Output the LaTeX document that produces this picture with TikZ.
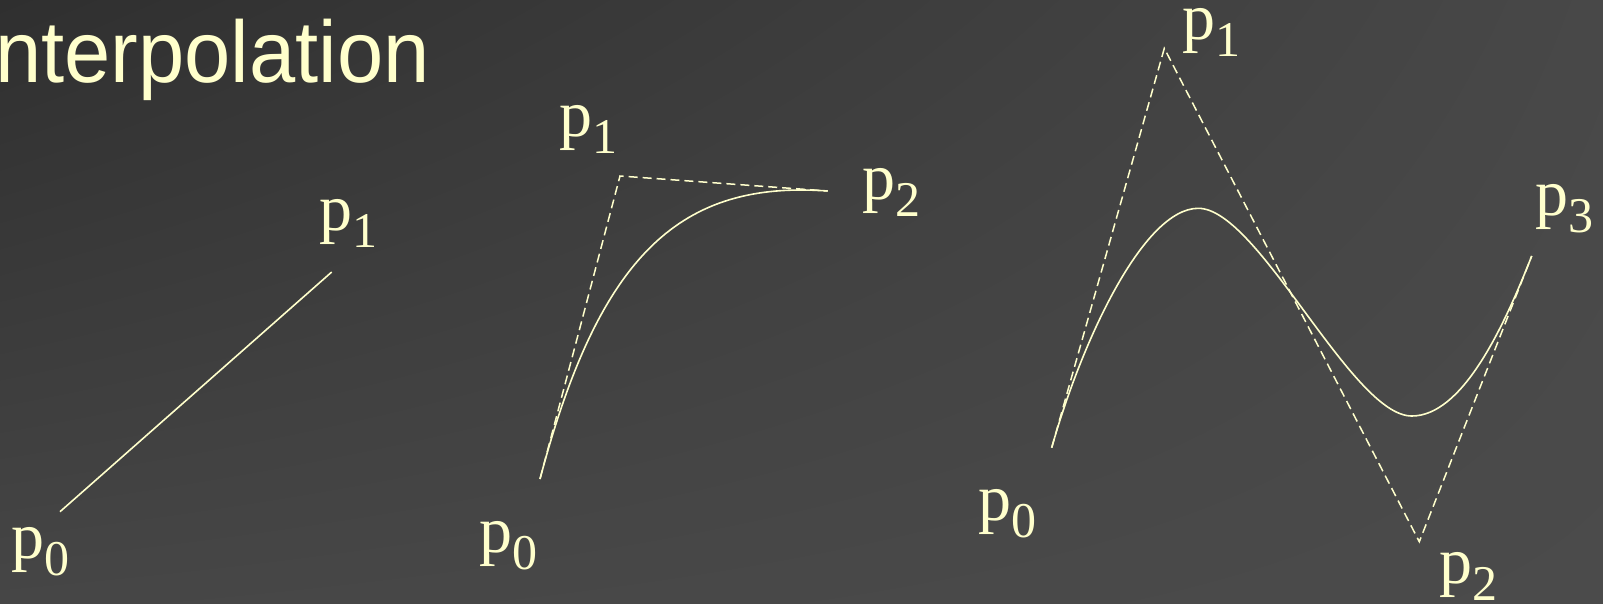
\documentclass[tikz,border=0pt]{standalone}
\usepackage{fontspec}
\usetikzlibrary{shadings}
\setmainfont{Liberation Serif}
\newfontfamily\titlefont{Liberation Sans}
\definecolor{pale}{HTML}{FFFFCC}
\definecolor{bgul}{HTML}{2F2F2F}
\definecolor{bgur}{HTML}{484848}
\definecolor{bgll}{HTML}{464646}
\definecolor{bglr}{HTML}{4B4B4B}
\newcommand{\plab}[1]{p\raisebox{-17pt}{\fontsize{50}{50}\selectfont #1}}
\begin{document}
\begin{tikzpicture}[x=1pt,y=-1pt,
  lbl/.style={inner sep=0pt, anchor=base west, text=pale, font=\fontsize{66}{70}\selectfont},
  curve/.style={draw=pale, line width=1.6pt},
  ctrl/.style={draw=pale, line width=1.5pt, dash pattern=on 9pt off 5pt}]
\useasboundingbox (0,0) rectangle (1603,603);
\shade[upper left=bgul, upper right=bgur, lower left=bgll, lower right=bglr]
  (0,0) rectangle (1603,603);

% title
\node[inner sep=0pt, anchor=base west, text=pale, font=\titlefont\fontsize{87.5}{90}\selectfont, xscale=0.95] (title) at (-5,82.7) {nterpolation};

% figure 1: linear
\coordinate (a0) at (60,511.7);
\coordinate (a1) at (331.7,272);
\draw[curve] (a0) -- (a1);
\node[lbl] (la0) at (11,558) {\plab{0}};
\node[lbl] (la1) at (319,230) {\plab{1}};

% figure 2: quadratic
\coordinate (b0) at (540,479);
\coordinate (b1) at (620,176);
\coordinate (b2) at (827.7,191);
\draw[ctrl] (b0) -- (b1) -- (b2);
\draw[curve] (b0) .. controls (600,251.8) and (682.3,180.5) .. (b2);
\node[lbl] (lb0) at (479,552) {\plab{0}};
\node[lbl] (lb1) at (559,136) {\plab{1}};
\node[lbl] (lb2) at (862,199) {\plab{2}};

% figure 3: cubic
\coordinate (c0) at (1051.7,447.7);
\coordinate (c1) at (1164.3,48.3);
\coordinate (c2) at (1419.3,541.7);
\coordinate (c3) at (1531.7,256);
\coordinate (ck) at (1198.3,208.3);
\coordinate (cm) at (1411.7,416);
\draw[ctrl] (c0) -- (c1) -- (c2) -- (c3);
\draw[curve] (c0) .. controls (1081.5,341.9) and (1143.3,208.3) .. (ck)
  .. controls (1258.3,208.3) and (1351.7,416) .. (cm)
  .. controls (1461.7,416) and (1502.4,330.5) .. (c3);
\node[lbl] (lc0) at (978,520) {\plab{0}};
\node[lbl] (lc1) at (1182,39) {\plab{1}};
\node[lbl] (lc2) at (1439,583) {\plab{2}};
\node[lbl] (lc3) at (1535,215) {\plab{3}};
\end{tikzpicture}
\end{document}
